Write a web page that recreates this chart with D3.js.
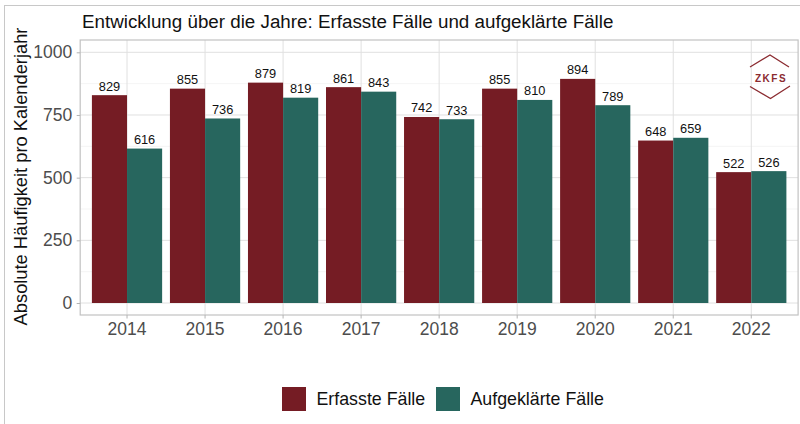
<!DOCTYPE html>
<html><head><meta charset="utf-8">
<script src="https://cdn.jsdelivr.net/npm/d3@7"></script>
<style>body{margin:0;background:#fff}svg{display:block}</style>
</head><body>
<svg id="c" width="800" height="424"></svg>
<script>
const years = ["2014","2015","2016","2017","2018","2019","2020","2021","2022"];
const erfasst = [829,855,879,861,742,855,894,648,522];
const aufgeklaert = [616,736,819,843,733,810,789,659,526];
const seriesNames = ["Erfasste Fälle","Aufgeklärte Fälle"];
const colors = ["#751c24","#27665e"];
const yTicks = [0,250,500,750,1000];
const yMinor = [125,375,625,875];

const svg = d3.select("#c");
const font = "'Liberation Sans', Arial, sans-serif";
const P = {left:80.2, right:798.1, top:40, bottom:315};

// outer frame
svg.append("rect").attr("x",4.5).attr("y",5.5).attr("width",820).attr("height",440)
  .attr("fill","none").attr("stroke","#c8c8c8").attr("stroke-width",1);

const x = d3.scaleBand().domain(years).range([P.left,P.right]).paddingInner(0).paddingOuter(0.1);
const xs = d3.scaleBand().domain([0,1]).range([0, x.bandwidth()*0.9]);
const y = d3.scaleLinear().domain([0,1000]).range([303,52.3]);

const g = svg.append("g");
// grid
g.selectAll(".minor").data(yMinor).join("line")
  .attr("x1",P.left).attr("x2",P.right).attr("y1",d=>y(d)).attr("y2",d=>y(d))
  .attr("stroke","#efefef").attr("stroke-width",0.6);
g.selectAll(".major").data(yTicks).join("line")
  .attr("x1",P.left).attr("x2",P.right).attr("y1",d=>y(d)).attr("y2",d=>y(d))
  .attr("stroke","#e0e0e0").attr("stroke-width",1);
g.selectAll(".vmajor").data(years).join("line")
  .attr("x1",d=>x(d)+x.bandwidth()/2).attr("x2",d=>x(d)+x.bandwidth()/2)
  .attr("y1",P.top).attr("y2",P.bottom)
  .attr("stroke","#e0e0e0").attr("stroke-width",1);

// bars
const data = years.map((yr,i)=>({yr, vals:[erfasst[i], aufgeklaert[i]]}));
const grp = g.selectAll(".yr").data(data).join("g")
  .attr("transform",d=>`translate(${x(d.yr)+x.bandwidth()*0.05},0)`);
grp.selectAll("rect").data(d=>d.vals.map((v,k)=>({v,k}))).join("rect")
  .attr("x",d=>xs(d.k)).attr("width",xs.bandwidth())
  .attr("y",d=>y(d.v)).attr("height",d=>y(0)-y(d.v))
  .attr("fill",d=>colors[d.k]);
grp.selectAll("text").data(d=>d.vals.map((v,k)=>({v,k}))).join("text")
  .attr("x",d=>xs(d.k)+xs.bandwidth()/2).attr("y",d=>y(d.v)-4.5)
  .attr("text-anchor","middle").attr("font-family",font).attr("font-size",12.8)
  .attr("fill","#111").text(d=>d.v);

// panel border
svg.append("rect").attr("x",P.left).attr("y",P.top)
  .attr("width",P.right-P.left).attr("height",P.bottom-P.top)
  .attr("fill","none").attr("stroke","#c2c2c2").attr("stroke-width",1.2);

// axes
const xAxis = svg.append("g").attr("transform",`translate(0,${P.bottom})`)
  .call(d3.axisBottom(x).tickSize(3.5).tickPadding(4));
xAxis.select(".domain").remove();
xAxis.selectAll("line").attr("stroke","#b3b3b3");
xAxis.selectAll("text").attr("font-family",font).attr("font-size",17.5).attr("fill","#4d4d4d");

const yAxis = svg.append("g").attr("transform",`translate(${P.left},0)`)
  .call(d3.axisLeft(y).tickValues(yTicks).tickFormat(d3.format("d")).tickSize(3.5).tickPadding(4.5));
yAxis.select(".domain").remove();
yAxis.selectAll("line").attr("stroke","#b3b3b3");
yAxis.selectAll("text").attr("font-family",font).attr("font-size",17.5).attr("fill","#4d4d4d");

// y title
svg.append("text").attr("transform",`translate(27,${(P.top+P.bottom)/2-1}) rotate(-90)`)
  .attr("text-anchor","middle").attr("font-family",font).attr("font-size",18.3)
  .attr("fill","#111").text("Absolute Häufigkeit pro Kalenderjahr");

// title
svg.append("text").attr("x",82).attr("y",27.5).attr("font-family",font).attr("font-size",18.8)
  .attr("fill","#111").text("Entwicklung über die Jahre: Erfasste Fälle und aufgeklärte Fälle");

// logo
const lg = svg.append("g").attr("fill","none").attr("stroke","#8b2b30").attr("stroke-width",1.3);
lg.append("path").attr("d","M750,67 L770,55 L789,67");
lg.append("path").attr("d","M750,86.5 L770.5,98.5 L790,86");
svg.append("text").attr("x",771).attr("y",81.5).attr("text-anchor","middle")
  .attr("font-family",font).attr("font-size",10).attr("font-weight","bold")
  .attr("letter-spacing",1.5).attr("fill","#8b2b30").text("ZKFS");

// legend
const legX = [282, 436];
const lgd = svg.selectAll(".leg").data(seriesNames).join("g")
  .attr("transform",(d,i)=>`translate(${legX[i]},387)`);
lgd.append("rect").attr("width",24).attr("height",24).attr("fill",(d,i)=>colors[i]);
lgd.append("text").attr("x",34.5).attr("y",18).attr("font-family",font)
  .attr("font-size",17.8).attr("fill","#111").text(d=>d);
</script>
</body></html>
